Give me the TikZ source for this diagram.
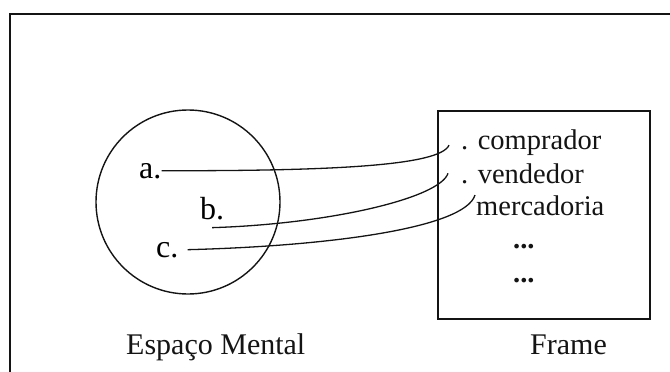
\documentclass[tikz,border=0pt]{standalone}
\usepackage{fontspec}
\setmainfont{Liberation Serif}
\usetikzlibrary{positioning}
\definecolor{inkDark}{HTML}{141414}

\begin{document}
\begin{tikzpicture}[x=1pt, y=-1pt,
    lbl/.style={font=\fontsize{30}{36}\selectfont\color{inkDark}, inner sep=0pt, anchor=base west},
    slot/.style={font=\fontsize{28.5}{34}\selectfont\color{inkDark}, inner sep=0pt, anchor=base west},
    link/.style={line width=1.3pt, inkDark}]
    \useasboundingbox (0,0) rectangle (670,372);
    \draw[line width=2.2pt, inkDark] (10,372) -- (10,14) -- (670,14);

    % espaco mental
    \draw[line width=1.4pt, inkDark] (188,202) circle [radius=92];
    \node[lbl, font=\fontsize{32}{38}\selectfont] (ea) at (139,178) {a.};
    \node[lbl, font=\fontsize{32}{38}\selectfont] (eb) at (200,219) {b.};
    \node[lbl, font=\fontsize{32}{38}\selectfont] (ec) at (156,257) {c.};

    % frame
    \draw[line width=2.8pt, inkDark] (438,111) rectangle (650,319);
    \node[slot] (comp) at (461,149) {. comprador};
    \node[slot] (vend) at (461,183) {. vendedor};
    \node[slot] (merc) at (476,215) {mercadoria};
    \node[slot] (dotsA) at (513,248) {\bfseries ...};
    \node[slot] (dotsB) at (513,282) {\bfseries ...};

    \node[lbl] (mental) at (126,354) {Espaço Mental};
    \node[lbl] (frame) at (530,354) {Frame};

    % ligacoes
    \draw[link] (ea.east) .. controls (330,171) and (440,166) .. ([xshift=-12pt,yshift=-3pt]comp.west);
    \draw[link] ([yshift=-8pt]eb.south) .. controls (330,224) and (440,198) .. ([xshift=-13pt]vend.west);
    \draw[link] ([xshift=9pt]ec.east) .. controls (330,246) and (465,228) .. ([xshift=-1pt]merc.north west);
\end{tikzpicture}
\end{document}
